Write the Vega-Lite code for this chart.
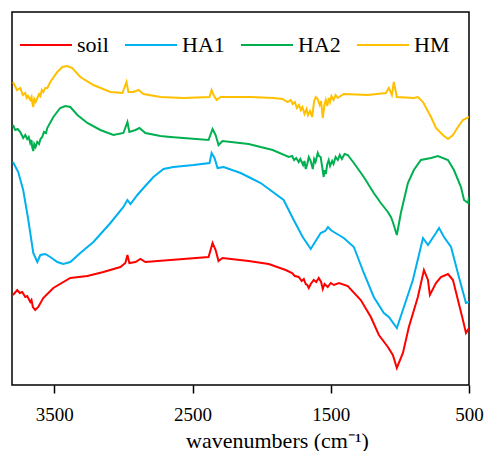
{
  "$schema": "https://vega.github.io/schema/vega-lite/v6.json",
  "width": 457,
  "height": 373,
  "padding": {"left": 12, "top": 12, "right": 5, "bottom": 0},
  "background": "white",
  "config": {
    "view": {"stroke": "black", "strokeWidth": 1.5},
    "font": "Liberation Serif"
  },
  "data": {
    "values": [
      {"s":"HM","w":3799,"v":303},{"s":"HM","w":3770,"v":295},{"s":"HM","w":3746,"v":297},{"s":"HM","w":3728,"v":290},{"s":"HM","w":3710,"v":292},{"s":"HM","w":3700,"v":287},{"s":"HM","w":3690,"v":289},{"s":"HM","w":3674,"v":285},{"s":"HM","w":3665,"v":288},{"s":"HM","w":3660,"v":283},{"s":"HM","w":3652,"v":278},{"s":"HM","w":3645,"v":286},{"s":"HM","w":3635,"v":283},{"s":"HM","w":3623,"v":287},{"s":"HM","w":3610,"v":291},{"s":"HM","w":3601,"v":289},{"s":"HM","w":3590,"v":295},{"s":"HM","w":3580,"v":293},{"s":"HM","w":3565,"v":297},{"s":"HM","w":3550,"v":297},{"s":"HM","w":3529,"v":303},{"s":"HM","w":3478,"v":313},{"s":"HM","w":3442,"v":318},{"s":"HM","w":3406,"v":319},{"s":"HM","w":3370,"v":317},{"s":"HM","w":3312,"v":308},{"s":"HM","w":3217,"v":300},{"s":"HM","w":3094,"v":293},{"s":"HM","w":3007,"v":292},{"s":"HM","w":2978,"v":303},{"s":"HM","w":2964,"v":293},{"s":"HM","w":2928,"v":293},{"s":"HM","w":2891,"v":295},{"s":"HM","w":2855,"v":291},{"s":"HM","w":2732,"v":288},{"s":"HM","w":2565,"v":287},{"s":"HM","w":2377,"v":288},{"s":"HM","w":2362,"v":295},{"s":"HM","w":2348,"v":290},{"s":"HM","w":2326,"v":285},{"s":"HM","w":2297,"v":288},{"s":"HM","w":2080,"v":288},{"s":"HM","w":1913,"v":287},{"s":"HM","w":1850,"v":286},{"s":"HM","w":1812,"v":283},{"s":"HM","w":1790,"v":285},{"s":"HM","w":1775,"v":281},{"s":"HM","w":1760,"v":283},{"s":"HM","w":1745,"v":277},{"s":"HM","w":1730,"v":280},{"s":"HM","w":1717,"v":275},{"s":"HM","w":1705,"v":278},{"s":"HM","w":1690,"v":271},{"s":"HM","w":1675,"v":276},{"s":"HM","w":1665,"v":270},{"s":"HM","w":1650,"v":274},{"s":"HM","w":1635,"v":268},{"s":"HM","w":1620,"v":284},{"s":"HM","w":1609,"v":288},{"s":"HM","w":1595,"v":286},{"s":"HM","w":1580,"v":280},{"s":"HM","w":1570,"v":284},{"s":"HM","w":1558,"v":267},{"s":"HM","w":1546,"v":280},{"s":"HM","w":1536,"v":285},{"s":"HM","w":1525,"v":279},{"s":"HM","w":1515,"v":287},{"s":"HM","w":1505,"v":283},{"s":"HM","w":1495,"v":289},{"s":"HM","w":1480,"v":285},{"s":"HM","w":1465,"v":290},{"s":"HM","w":1450,"v":287},{"s":"HM","w":1406,"v":291},{"s":"HM","w":1232,"v":290},{"s":"HM","w":1102,"v":292},{"s":"HM","w":1080,"v":297},{"s":"HM","w":1058,"v":290},{"s":"HM","w":1044,"v":303},{"s":"HM","w":1022,"v":288},{"s":"HM","w":899,"v":287},{"s":"HM","w":870,"v":288},{"s":"HM","w":833,"v":283},{"s":"HM","w":775,"v":268},{"s":"HM","w":739,"v":257},{"s":"HM","w":689,"v":250},{"s":"HM","w":652,"v":246},{"s":"HM","w":616,"v":250},{"s":"HM","w":580,"v":258},{"s":"HM","w":544,"v":265},{"s":"HM","w":500,"v":268},

      {"s":"HA2","w":3799,"v":260},{"s":"HA2","w":3783,"v":255},{"s":"HA2","w":3765,"v":256},{"s":"HA2","w":3746,"v":253},{"s":"HA2","w":3725,"v":247},{"s":"HA2","w":3710,"v":250},{"s":"HA2","w":3696,"v":246},{"s":"HA2","w":3685,"v":248},{"s":"HA2","w":3674,"v":242},{"s":"HA2","w":3665,"v":245},{"s":"HA2","w":3660,"v":238},{"s":"HA2","w":3652,"v":234},{"s":"HA2","w":3645,"v":241},{"s":"HA2","w":3635,"v":238},{"s":"HA2","w":3623,"v":243},{"s":"HA2","w":3610,"v":241},{"s":"HA2","w":3600,"v":246},{"s":"HA2","w":3587,"v":248},{"s":"HA2","w":3575,"v":253},{"s":"HA2","w":3560,"v":252},{"s":"HA2","w":3551,"v":257},{"s":"HA2","w":3507,"v":268},{"s":"HA2","w":3457,"v":277},{"s":"HA2","w":3420,"v":279},{"s":"HA2","w":3384,"v":278},{"s":"HA2","w":3333,"v":270},{"s":"HA2","w":3261,"v":262},{"s":"HA2","w":3167,"v":255},{"s":"HA2","w":3072,"v":250},{"s":"HA2","w":3000,"v":252},{"s":"HA2","w":2971,"v":263},{"s":"HA2","w":2957,"v":253},{"s":"HA2","w":2913,"v":255},{"s":"HA2","w":2884,"v":257},{"s":"HA2","w":2841,"v":252},{"s":"HA2","w":2732,"v":249},{"s":"HA2","w":2659,"v":248},{"s":"HA2","w":2384,"v":245},{"s":"HA2","w":2355,"v":256},{"s":"HA2","w":2333,"v":250},{"s":"HA2","w":2312,"v":240},{"s":"HA2","w":2283,"v":244},{"s":"HA2","w":2094,"v":241},{"s":"HA2","w":1920,"v":235},{"s":"HA2","w":1804,"v":228},{"s":"HA2","w":1780,"v":229},{"s":"HA2","w":1765,"v":225},{"s":"HA2","w":1750,"v":227},{"s":"HA2","w":1732,"v":223},{"s":"HA2","w":1720,"v":226},{"s":"HA2","w":1700,"v":220},{"s":"HA2","w":1690,"v":224},{"s":"HA2","w":1681,"v":216},{"s":"HA2","w":1670,"v":221},{"s":"HA2","w":1659,"v":228},{"s":"HA2","w":1645,"v":224},{"s":"HA2","w":1630,"v":216},{"s":"HA2","w":1620,"v":226},{"s":"HA2","w":1610,"v":223},{"s":"HA2","w":1594,"v":232},{"s":"HA2","w":1585,"v":229},{"s":"HA2","w":1573,"v":228},{"s":"HA2","w":1560,"v":216},{"s":"HA2","w":1551,"v":208},{"s":"HA2","w":1545,"v":215},{"s":"HA2","w":1536,"v":211},{"s":"HA2","w":1525,"v":221},{"s":"HA2","w":1515,"v":225},{"s":"HA2","w":1505,"v":219},{"s":"HA2","w":1490,"v":224},{"s":"HA2","w":1480,"v":221},{"s":"HA2","w":1465,"v":228},{"s":"HA2","w":1449,"v":225},{"s":"HA2","w":1435,"v":230},{"s":"HA2","w":1420,"v":226},{"s":"HA2","w":1400,"v":231},{"s":"HA2","w":1377,"v":230},{"s":"HA2","w":1333,"v":222},{"s":"HA2","w":1261,"v":208},{"s":"HA2","w":1189,"v":192},{"s":"HA2","w":1138,"v":182},{"s":"HA2","w":1087,"v":173},{"s":"HA2","w":1065,"v":168},{"s":"HA2","w":1051,"v":163},{"s":"HA2","w":1022,"v":150},{"s":"HA2","w":993,"v":172},{"s":"HA2","w":971,"v":185},{"s":"HA2","w":942,"v":202},{"s":"HA2","w":899,"v":215},{"s":"HA2","w":848,"v":225},{"s":"HA2","w":775,"v":227},{"s":"HA2","w":725,"v":229},{"s":"HA2","w":652,"v":225},{"s":"HA2","w":609,"v":215},{"s":"HA2","w":558,"v":198},{"s":"HA2","w":536,"v":185},{"s":"HA2","w":507,"v":182},{"s":"HA2","w":500,"v":188},

      {"s":"HA1","w":3799,"v":223},{"s":"HA1","w":3761,"v":213},{"s":"HA1","w":3725,"v":195},{"s":"HA1","w":3688,"v":165},{"s":"HA1","w":3652,"v":132},{"s":"HA1","w":3623,"v":123},{"s":"HA1","w":3601,"v":130},{"s":"HA1","w":3565,"v":131},{"s":"HA1","w":3529,"v":128},{"s":"HA1","w":3478,"v":123},{"s":"HA1","w":3435,"v":121},{"s":"HA1","w":3384,"v":123},{"s":"HA1","w":3312,"v":132},{"s":"HA1","w":3217,"v":143},{"s":"HA1","w":3094,"v":162},{"s":"HA1","w":3000,"v":178},{"s":"HA1","w":2971,"v":185},{"s":"HA1","w":2949,"v":181},{"s":"HA1","w":2899,"v":190},{"s":"HA1","w":2855,"v":197},{"s":"HA1","w":2783,"v":208},{"s":"HA1","w":2710,"v":216},{"s":"HA1","w":2638,"v":218},{"s":"HA1","w":2493,"v":220},{"s":"HA1","w":2377,"v":222},{"s":"HA1","w":2362,"v":232},{"s":"HA1","w":2341,"v":227},{"s":"HA1","w":2319,"v":217},{"s":"HA1","w":2275,"v":218},{"s":"HA1","w":2152,"v":212},{"s":"HA1","w":2080,"v":207},{"s":"HA1","w":2007,"v":202},{"s":"HA1","w":1841,"v":185},{"s":"HA1","w":1768,"v":165},{"s":"HA1","w":1703,"v":148},{"s":"HA1","w":1645,"v":136},{"s":"HA1","w":1573,"v":152},{"s":"HA1","w":1540,"v":154},{"s":"HA1","w":1520,"v":158},{"s":"HA1","w":1500,"v":155},{"s":"HA1","w":1478,"v":153},{"s":"HA1","w":1406,"v":147},{"s":"HA1","w":1333,"v":138},{"s":"HA1","w":1261,"v":112},{"s":"HA1","w":1189,"v":88},{"s":"HA1","w":1116,"v":72},{"s":"HA1","w":1080,"v":68},{"s":"HA1","w":1022,"v":57},{"s":"HA1","w":971,"v":78},{"s":"HA1","w":906,"v":105},{"s":"HA1","w":833,"v":147},{"s":"HA1","w":797,"v":140},{"s":"HA1","w":739,"v":152},{"s":"HA1","w":717,"v":157},{"s":"HA1","w":681,"v":148},{"s":"HA1","w":630,"v":138},{"s":"HA1","w":573,"v":108},{"s":"HA1","w":522,"v":82},{"s":"HA1","w":500,"v":83},

      {"s":"soil","w":3799,"v":90},{"s":"soil","w":3768,"v":95},{"s":"soil","w":3750,"v":92},{"s":"soil","w":3732,"v":93},{"s":"soil","w":3710,"v":88},{"s":"soil","w":3696,"v":89},{"s":"soil","w":3674,"v":83},{"s":"soil","w":3665,"v":85},{"s":"soil","w":3655,"v":78},{"s":"soil","w":3638,"v":75},{"s":"soil","w":3616,"v":78},{"s":"soil","w":3580,"v":87},{"s":"soil","w":3507,"v":97},{"s":"soil","w":3384,"v":107},{"s":"soil","w":3261,"v":109},{"s":"soil","w":3145,"v":113},{"s":"soil","w":3022,"v":118},{"s":"soil","w":2986,"v":122},{"s":"soil","w":2971,"v":130},{"s":"soil","w":2957,"v":122},{"s":"soil","w":2913,"v":123},{"s":"soil","w":2877,"v":126},{"s":"soil","w":2841,"v":123},{"s":"soil","w":2659,"v":125},{"s":"soil","w":2384,"v":128},{"s":"soil","w":2355,"v":142},{"s":"soil","w":2333,"v":135},{"s":"soil","w":2312,"v":124},{"s":"soil","w":2283,"v":127},{"s":"soil","w":2094,"v":124},{"s":"soil","w":1949,"v":121},{"s":"soil","w":1826,"v":115},{"s":"soil","w":1780,"v":112},{"s":"soil","w":1760,"v":109},{"s":"soil","w":1732,"v":108},{"s":"soil","w":1710,"v":104},{"s":"soil","w":1695,"v":106},{"s":"soil","w":1681,"v":101},{"s":"soil","w":1670,"v":100},{"s":"soil","w":1659,"v":97},{"s":"soil","w":1645,"v":101},{"s":"soil","w":1623,"v":105},{"s":"soil","w":1605,"v":103},{"s":"soil","w":1587,"v":107},{"s":"soil","w":1570,"v":103},{"s":"soil","w":1558,"v":96},{"s":"soil","w":1545,"v":101},{"s":"soil","w":1522,"v":98},{"s":"soil","w":1500,"v":102},{"s":"soil","w":1478,"v":100},{"s":"soil","w":1440,"v":102},{"s":"soil","w":1377,"v":99},{"s":"soil","w":1283,"v":85},{"s":"soil","w":1210,"v":68},{"s":"soil","w":1152,"v":50},{"s":"soil","w":1087,"v":38},{"s":"soil","w":1051,"v":30},{"s":"soil","w":1022,"v":17},{"s":"soil","w":978,"v":32},{"s":"soil","w":935,"v":58},{"s":"soil","w":870,"v":88},{"s":"soil","w":826,"v":115},{"s":"soil","w":797,"v":105},{"s":"soil","w":783,"v":90},{"s":"soil","w":739,"v":102},{"s":"soil","w":703,"v":108},{"s":"soil","w":652,"v":111},{"s":"soil","w":616,"v":105},{"s":"soil","w":580,"v":85},{"s":"soil","w":544,"v":65},{"s":"soil","w":522,"v":52},{"s":"soil","w":500,"v":57}
    ]
  },
  "mark": {"type": "line", "strokeWidth": 2, "clip": true},
  "encoding": {
    "x": {
      "field": "w",
      "type": "quantitative",
      "scale": {"domain": [500, 3806], "reverse": true, "nice": false, "zero": false},
      "axis": {
        "values": [3500, 2500, 1500, 500],
        "format": "d",
        "grid": false,
        "domain": false,
        "tickColor": "black",
        "tickWidth": 1.5,
        "tickSize": 8,
        "labelFont": "Times New Roman, Liberation Serif, serif",
        "labelFontSize": 19,
        "labelColor": "black",
        "labelPadding": 12,
        "labelFlush": false,
        "title": "wavenumbers (cm⁻¹)",
        "titleFont": "Times New Roman, Liberation Serif, serif",
        "titleFontSize": 22,
        "titleFontWeight": "normal",
        "titleColor": "black",
        "titlePadding": 6,
        "titleX": 265,
        "titleAlign": "center"
      }
    },
    "y": {
      "field": "v",
      "type": "quantitative",
      "scale": {"domain": [0, 373], "nice": false, "zero": false},
      "axis": null
    },
    "color": {
      "field": "s",
      "type": "nominal",
      "scale": {"domain": ["soil", "HA1", "HA2", "HM"], "range": ["#FF0000", "#00B0F0", "#00B050", "#FFC000"]},
      "legend": {
        "orient": "none",
        "legendX": 7,
        "legendY": 6,
        "direction": "horizontal",
        "title": null,
        "padding": 0,
        "symbolType": "stroke",
        "symbolSize": 2704,
        "symbolStrokeWidth": 2,
        "labelFont": "Times New Roman, Liberation Serif, serif",
        "labelFontSize": 22,
        "labelColor": "black",
        "labelOffset": 4,
        "columnPadding": 12,
        "labelLimit": 200
      }
    }
  }
}
